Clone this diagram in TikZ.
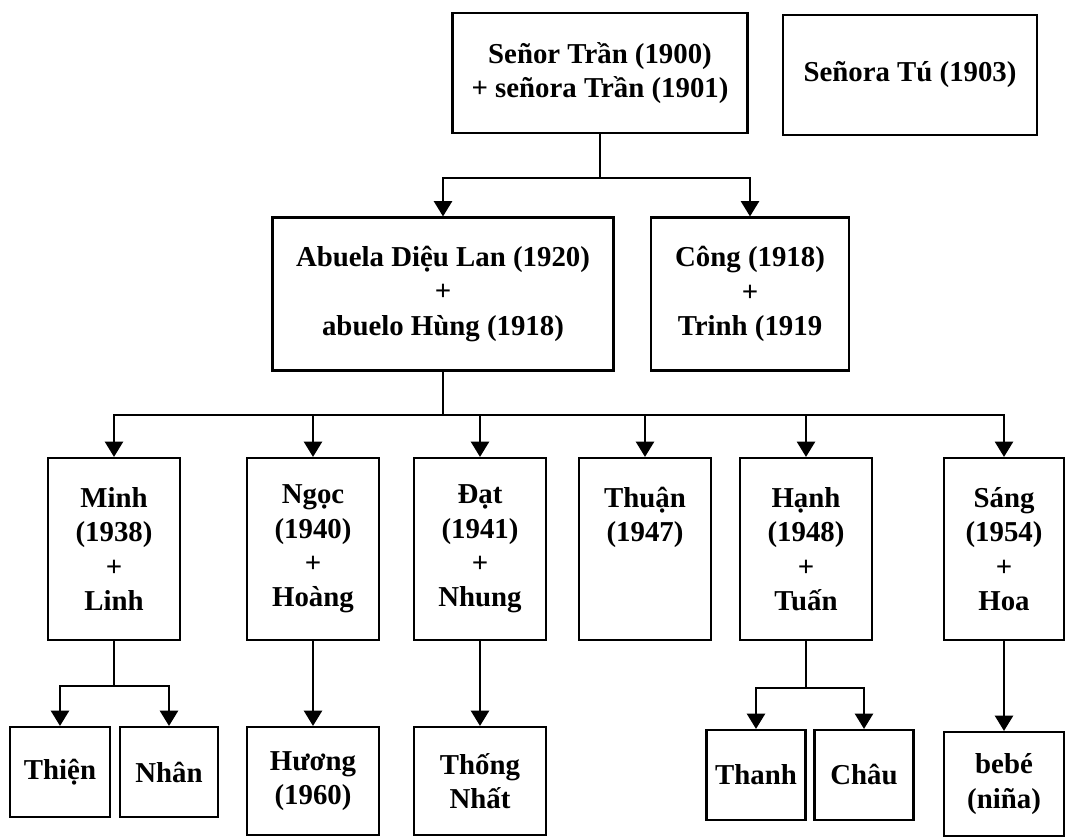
\documentclass[tikz,border=0pt]{standalone}
\usepackage{fontspec}
\setmainfont{Liberation Serif}
\usetikzlibrary{arrows.meta,positioning}

\begin{document}
\begin{tikzpicture}[
    x=0.025cm, y=-0.025cm,
    box/.style={draw, line width=1.5pt, align=center, inner sep=0pt, font=\fontsize{20.5}{24.5}\selectfont\bfseries},
    couple/.style={box, minimum width=3.3cm, minimum height=4.55cm},
    kid/.style={box, minimum width=2.5cm, minimum height=2.25cm},
    link/.style={line width=1.5pt},
    arr/.style={link, -{Triangle[length=0.38cm, width=0.45cm]}},
]
\useasboundingbox (0,0) rectangle (1065,840);

% Generation 1
\node[box, minimum width=7.375cm, minimum height=3cm] (tran) at (600,73) {Señor Trần (1900)\\+ señora Trần (1901)};
\node[box, minimum width=6.35cm, minimum height=3cm] (tu) at (910,75) {Señora Tú (1903)};

% Generation 2
\node[box, minimum width=8.525cm, minimum height=3.825cm] (lan) at (443,294) {Abuela Diệu Lan (1920)\\+\\abuelo Hùng (1918)};
\node[box, minimum width=4.95cm, minimum height=3.825cm] (cong) at (750,294) {Công (1918)\\+\\Trinh (1919};

% Generation 3
\node[couple] (minh) at (114,549) {Minh\\(1938)\\+\\Linh};
\node[couple] (ngoc) at (313,549) {Ngọc\\(1940)\\+\\Hoàng};
\node[couple] (dat) at (480,549) {Đạt\\(1941)\\+\\Nhung};
\node[couple] (thuan) at (645,549) {Thuận\\(1947)\\\phantom{+}\\\phantom{Linh}};
\node[couple] (hanh) at (806,549) {Hạnh\\(1948)\\+\\Tuấn};
\node[couple, minimum width=3.0cm] (sang) at (1004,549) {Sáng\\(1954)\\+\\Hoa};

% Generation 4
\node[kid] (thien) at (60,772) {Thiện};
\node[kid, minimum width=2.45cm] (nhan) at (169,772) {Nhân};
\node[kid, minimum width=3.3cm, minimum height=2.7cm] (huong) at (313,781) {Hương\\(1960)};
\node[kid, minimum width=3.3cm, minimum height=2.7cm] (thong) at (480,781) {Thống\\Nhất};
\node[kid, minimum width=2.475cm] (thanh) at (756,775) {Thanh};
\node[kid, minimum width=2.475cm] (chau) at (864,775) {Châu};
\node[kid, minimum width=3.0cm, minimum height=2.6cm] (bebe) at (1004,784) {bebé\\(niña)};

% Split points
\coordinate (s1) at (600,178);
\coordinate (s2) at (443,415);
\coordinate (s3) at (114,686);
\coordinate (s4) at (806,688);

% Arrows
\draw[link] (tran) -- (s1);
\draw[arr] (s1) -| (lan.north);
\draw[arr] (s1) -| (cong.north);

\draw[link] (lan) -- (s2);
\foreach \c in {minh,ngoc,dat,thuan,hanh,sang}
    \draw[arr] (s2) -| (\c.north);

\draw[link] (minh) -- (s3);
\draw[arr] (s3) -| (thien.north);
\draw[arr] (s3) -| (nhan.north);

\draw[arr] (ngoc) -- (huong);
\draw[arr] (dat) -- (thong);

\draw[link] (hanh) -- (s4);
\draw[arr] (s4) -| (thanh.north);
\draw[arr] (s4) -| (chau.north);

\draw[arr] (sang) -- (bebe);

\end{tikzpicture}
\end{document}
